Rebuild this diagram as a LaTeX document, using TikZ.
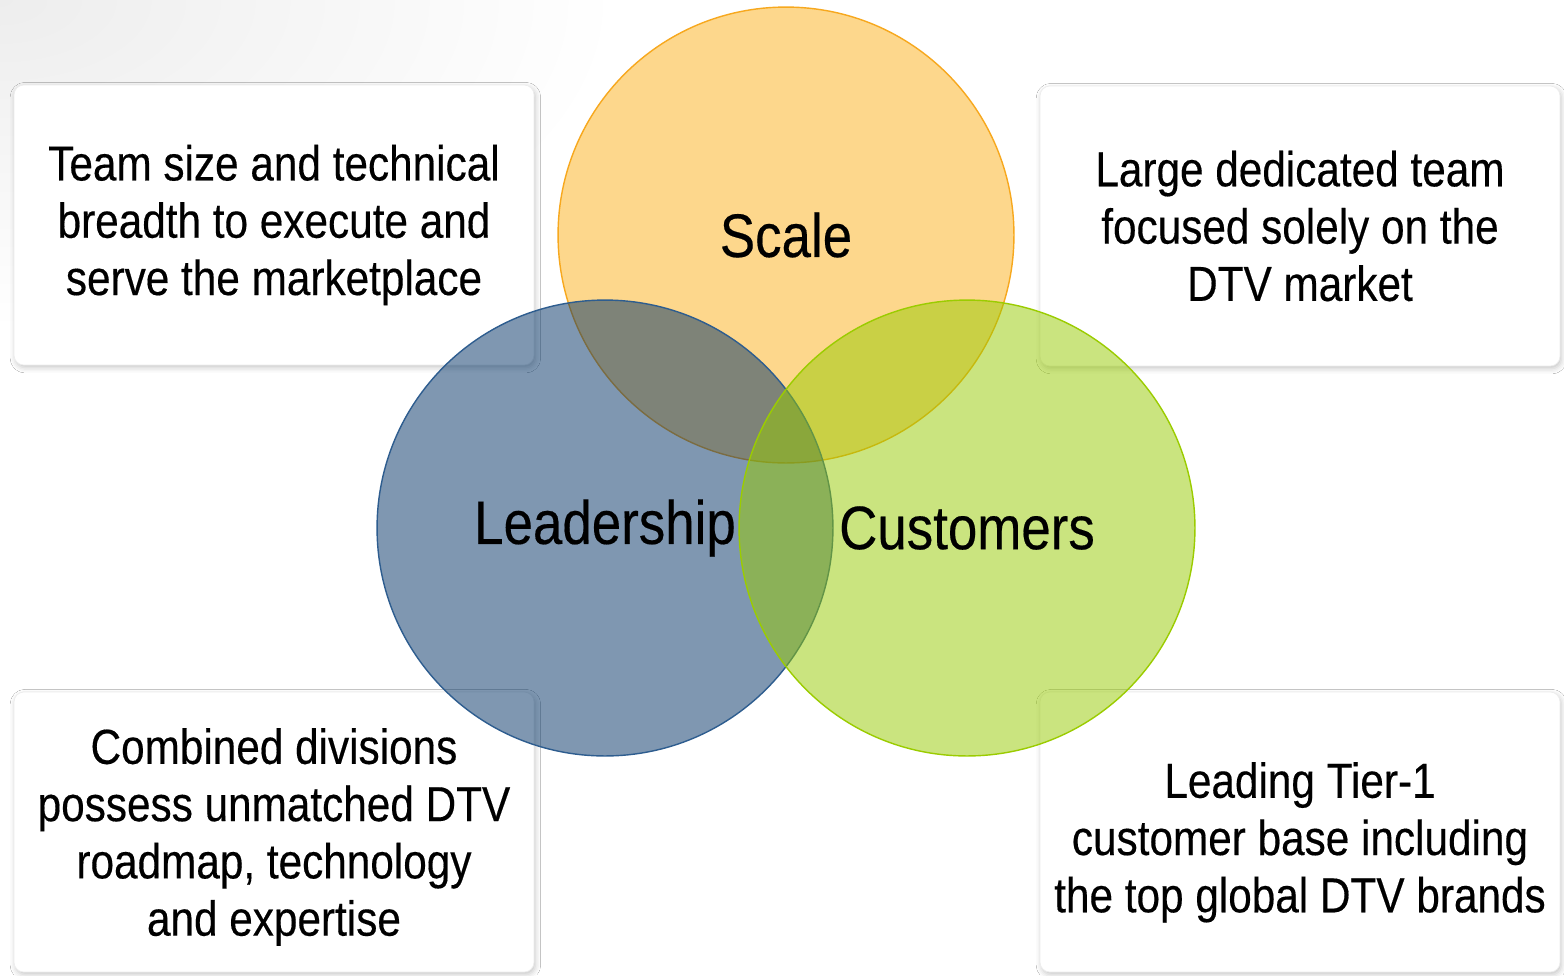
\documentclass[tikz,border=0pt]{standalone}
\usepackage{fontspec}
\setmainfont[FakeStretch=0.86,FakeBold=0.3]{Liberation Sans}
\usetikzlibrary{positioning,shadows.blur}

\definecolor{scalefill}{RGB}{253,177,27}
\definecolor{scaleline}{RGB}{247,168,30}
\definecolor{leadfill}{RGB}{0,49,101}
\definecolor{leadline}{RGB}{46,93,143}
\definecolor{custfill}{RGB}{151,203,0}
\definecolor{custline}{RGB}{155,204,0}

\begin{document}
\begin{tikzpicture}[x=0.02cm,y=-0.02cm,
  venn/.style={circle,minimum size=9.12cm,inner sep=0pt,line width=0.8pt,
    fill opacity=0.5,text opacity=1,font=\fontsize{35}{40}\selectfont},
  infobox/.style={rectangle,rounded corners=5.5pt,fill=white,draw=black!7,
    minimum width=10.4cm,minimum height=5.6cm,align=center,
    font=\fontsize{28}{32.6}\selectfont,
    blur shadow={shadow xshift=0.8pt,shadow yshift=-1.5pt,
      shadow blur radius=3pt,shadow opacity=22}}]
\useasboundingbox (0,0) rectangle (1564,975);
\fill[white] (0,0) rectangle (1564,975);
\shade[inner color=black!7,outer color=white] (0,0) ellipse (620 and 330);

\node[infobox] (boxtl) at (274,225) {Team size and technical\\breadth to execute and\\serve the marketplace};
\node[infobox] (boxtr) at (1300,226) {Large dedicated team\\focused solely on the\\DTV market};
\node[infobox] (boxbl) at (274,832) {\rule{0pt}{26pt}Combined divisions\\possess unmatched DTV\\roadmap, technology\\and expertise};
\node[infobox] (boxbr) at (1300,832) {\rule{0pt}{32pt}Leading Tier-1\\customer base including\\the top global DTV brands};

\node[venn,fill=scalefill,draw=scaleline] (scale) at (786,235) {Scale};
\node[venn,fill=leadfill,draw=leadline] (lead) at (605,528) {Leadership};
\node[venn,fill=custfill,draw=custline] (cust) at (967,528) {Customers};

\end{tikzpicture}
\end{document}
